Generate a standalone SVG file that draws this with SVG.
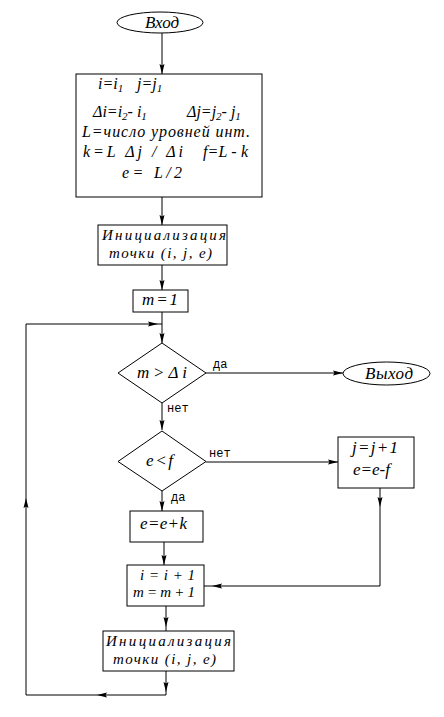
<svg xmlns="http://www.w3.org/2000/svg" width="444" height="717" viewBox="0 0 444 717">
<style>
.sh{fill:#fff;stroke:#000;stroke-width:1}
.f{font-family:"Liberation Serif",serif;font-style:italic;font-size:16px;fill:#000}
.b{font-size:17px}
.t{font-size:15px}
.l{font-family:"Liberation Mono",monospace;font-size:12px;fill:#000}
.c{fill:none;stroke:#000;stroke-width:1}
.s{font-size:11px}
</style>
<defs>
<marker id="a" viewBox="0 0 10 6" refX="10" refY="3" markerWidth="10" markerHeight="6" markerUnits="userSpaceOnUse" orient="auto">
<path d="M0,0.5 L10,3 L0,5.5 L1.5,3 z" fill="#000"/>
</marker>
</defs>
<rect width="444" height="717" fill="#fff"/>
<g id="connectors">
<path class="c" d="M162,33 L162,74" marker-end="url(#a)"/>
<path class="c" d="M162,197 L162,225" marker-end="url(#a)"/>
<path class="c" d="M162,265 L162,290" marker-end="url(#a)"/>
<path class="c" d="M162,312 L162,343" marker-end="url(#a)"/>
<path class="c" d="M206,373 L343,373" marker-end="url(#a)"/>
<path class="c" d="M162,403 L162,430" marker-end="url(#a)"/>
<path class="c" d="M206,462 L338,462" marker-end="url(#a)"/>
<path class="c" d="M162,491 L162,511" marker-end="url(#a)"/>
<path class="c" d="M164,542 L164,565" marker-end="url(#a)"/>
<path class="c" d="M380,488 L380,507" marker-end="url(#a)"/>
<path class="c" d="M380,507 L380,586 L212,586" marker-end="url(#a)"/>
<path class="c" d="M212,586 L204,586"/>
<path class="c" d="M166,606 L166,627" marker-end="url(#a)"/>
<path class="c" d="M166,627 L166,631"/>
<path class="c" d="M166,671 L166,692" marker-end="url(#a)"/>
<path class="c" d="M166,692 L166,695 L97,695" marker-end="url(#a)"/>
<path class="c" d="M97,695 L26,695 L26,498" marker-end="url(#a)"/>
<path class="c" d="M26,498 L26,324 L158,324" marker-end="url(#a)"/>
<path class="c" d="M158,324 L162,324"/>
<text class="l" x="213" y="368">да</text>
<text class="l" x="167" y="412">нет</text>
<text class="l" x="209" y="457">нет</text>
<text class="l" x="171" y="501">да</text>
</g>
<g id="start">
<ellipse class="sh" cx="160" cy="22.5" rx="43" ry="10.5"/>
<text class="f b" x="162" y="28" text-anchor="middle">Вход</text>
</g>
<g id="setup">
<rect class="sh" x="76" y="74" width="186" height="123"/>
<text class="f" x="98" y="89">i=i<tspan class="s" dy="3">1</tspan></text>
<text class="f" x="137" y="89">j=j<tspan class="s" dy="3">1</tspan></text>
<text class="f" x="93" y="117">Δi=i<tspan class="s" dy="3">2</tspan><tspan dy="-3">- i</tspan><tspan class="s" dy="3">1</tspan></text>
<text class="f" x="187" y="117">Δj=j<tspan class="s" dy="3">2</tspan><tspan dy="-3">- j</tspan><tspan class="s" dy="3">1</tspan></text>
<text class="f" x="82" y="137" textLength="168" lengthAdjust="spacing">L=число уровней инт.</text>
<text class="f" x="83" y="157" textLength="100" lengthAdjust="spacing">k=L Δj / Δi</text>
<text class="f" x="203" y="157" textLength="45" lengthAdjust="spacing">f=L - k</text>
<text class="f" x="122" y="178" textLength="60" lengthAdjust="spacing">e= L/2</text>
</g>
<g id="init1">
<rect class="sh" x="98" y="225" width="129" height="40"/>
<text class="f t" x="102" y="240" textLength="124" lengthAdjust="spacing">Инициализация</text>
<text class="f t" x="109" y="258" textLength="103" lengthAdjust="spacing">точки  (i, j, e)</text>
</g>
<g id="m1">
<rect class="sh" x="133" y="290" width="55" height="22"/>
<text class="f b" x="142" y="305" textLength="36" lengthAdjust="spacing">m=1</text>
</g>
<g id="cond1">
<polygon class="sh" points="162,343 206,373 162,403 118,373"/>
<text class="f b" x="137" y="378" textLength="50" lengthAdjust="spacing">m&gt;Δi</text>
</g>
<g id="exit">
<ellipse class="sh" cx="386.5" cy="373.5" rx="43.5" ry="11.5"/>
<text class="f b" x="365" y="379" textLength="48" lengthAdjust="spacing">Выход</text>
</g>
<g id="cond2">
<polygon class="sh" points="162,431 206,461.5 162,491 118,461.5"/>
<text class="f b" x="146" y="466" textLength="27" lengthAdjust="spacing">e&lt;f</text>
</g>
<g id="stepj">
<rect class="sh" x="338" y="437" width="76" height="51"/>
<text class="f b" x="352" y="453" textLength="46" lengthAdjust="spacing">j=j+1</text>
<text class="f b" x="353" y="475" textLength="37" lengthAdjust="spacing">e=e-f</text>
</g>
<g id="stepe">
<rect class="sh" x="130" y="511" width="73" height="31"/>
<text class="f b" x="140" y="529" textLength="47" lengthAdjust="spacing">e=e+k</text>
</g>
<g id="stepi">
<rect class="sh" x="127" y="565" width="77" height="41"/>
<text class="f t" x="140" y="580" textLength="55" lengthAdjust="spacing">i=i+1</text>
<text class="f t" x="133" y="597" textLength="62" lengthAdjust="spacing">m=m+1</text>
</g>
<g id="init2">
<rect class="sh" x="103" y="631" width="131" height="40"/>
<text class="f t" x="106" y="646" textLength="125" lengthAdjust="spacing">Инициализация</text>
<text class="f t" x="113" y="664" textLength="103" lengthAdjust="spacing">точки  (i, j, e)</text>
</g>
</svg>
